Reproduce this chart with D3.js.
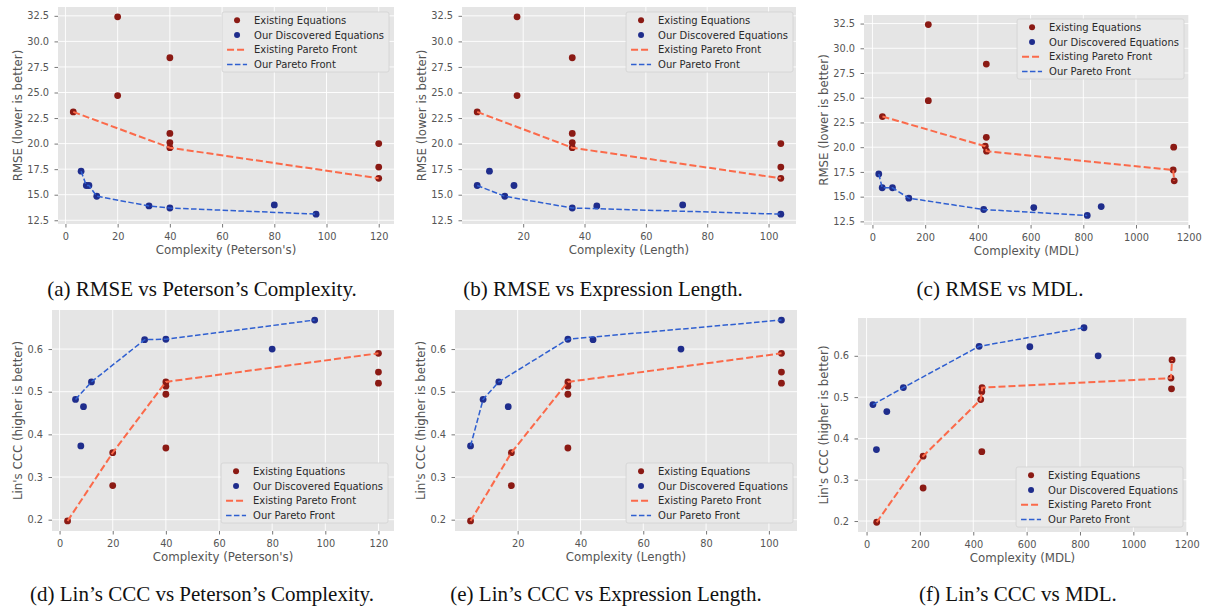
<!DOCTYPE html>
<html>
<head>
<meta charset="utf-8">
<script src="https://cdn.jsdelivr.net/npm/d3@7"></script>
<style>
  body { margin: 0; background: #fff; }
  svg { display: block; }
</style>
</head>
<body>
<svg id="fig" width="1208" height="610"></svg>
<script>
// existing equations, same order in every array
const existPeterson = [3, 20, 20, 40, 40, 40, 40, 120, 120, 120]
const existLength   = [5, 18, 18, 36, 36, 36, 36, 104, 104, 104]
const existMDL      = [38, 212, 212, 432, 432, 428, 433, 1143, 1141, 1145]
const existRMSE     = [23.1, 24.7, 32.4, 28.4, 21.0, 20.1, 19.6, 20.0, 17.7, 16.6]
const existCCC      = [0.197, 0.357, 0.28, 0.368, 0.513, 0.494, 0.523, 0.52, 0.546, 0.59]

// our discovered equations
const ourPeterson = [6, 8, 9, 12, 32, 40, 80, 96]
const ourLength   = [9, 5, 17, 14, 44, 36, 72, 104]
const ourMDL      = [24, 37, 76, 138, 612, 422, 868, 815]
const ourRMSE     = [17.3, 15.9, 15.9, 14.85, 13.9, 13.7, 14.0, 13.1]
const ourCCC      = [0.482, 0.373, 0.465, 0.523, 0.622, 0.623, 0.6, 0.668]

const petersonTicks = [0, 20, 40, 60, 80, 100, 120]
const lengthTicks   = [20, 40, 60, 80, 100]
const mdlTicks      = [0, 200, 400, 600, 800, 1000, 1200]
const rmseTicks     = [12.5, 15, 17.5, 20, 22.5, 25, 27.5, 30, 32.5]
const cccTicks      = [0.2, 0.3, 0.4, 0.5, 0.6]

const legendLabels = ['Existing Equations', 'Our Discovered Equations', 'Existing Pareto Front', 'Our Pareto Front']

const RED = '#8b1a14', BLUE = '#1f2d8c', ORANGE = '#fb6a4a', LBLUE = '#2f5fd0'

// box = [left, top, right, bottom], leg = [right edge, top]
const panels = [
  { ex: existPeterson, ey: existRMSE, ox: ourPeterson, oy: ourRMSE, xt: petersonTicks, yt: rmseTicks, lower: true,
    xl: "Complexity (Peterson's)", yl: 'RMSE (lower is better)', box: [58, 7, 394, 224], leg: [389, 12],
    cap: '(a) RMSE vs Peterson\u2019s Complexity.', cx: 202, cy: 296 },
  { ex: existLength, ey: existRMSE, ox: ourLength, oy: ourRMSE, xt: lengthTicks, yt: rmseTicks, lower: true,
    xl: 'Complexity (Length)', yl: 'RMSE (lower is better)', box: [462, 7, 796, 224], leg: [793, 12],
    cap: '(b) RMSE vs Expression Length.', cx: 603, cy: 296 },
  { ex: existMDL, ey: existRMSE, ox: ourMDL, oy: ourRMSE, xt: mdlTicks, yt: rmseTicks, lower: true,
    xl: 'Complexity (MDL)', yl: 'RMSE (lower is better)', box: [864, 15, 1189, 225], leg: [1184, 19],
    cap: '(c) RMSE vs MDL.', cx: 1000, cy: 296 },
  { ex: existPeterson, ey: existCCC, ox: ourPeterson, oy: ourCCC, xt: petersonTicks, yt: cccTicks, lower: false,
    xl: "Complexity (Peterson's)", yl: "Lin's CCC (higher is better)", box: [52, 310, 394, 531], leg: [388, 463],
    cap: '(d) Lin\u2019s CCC vs Peterson\u2019s Complexity.', cx: 202, cy: 601 },
  { ex: existLength, ey: existCCC, ox: ourLength, oy: ourCCC, xt: lengthTicks, yt: cccTicks, lower: false,
    xl: 'Complexity (Length)', yl: "Lin's CCC (higher is better)", box: [455, 310, 797, 531], leg: [793, 463],
    cap: '(e) Lin\u2019s CCC vs Expression Length.', cx: 606, cy: 601 },
  { ex: existMDL, ey: existCCC, ox: ourMDL, oy: ourCCC, xt: mdlTicks, yt: cccTicks, lower: false,
    xl: 'Complexity (MDL)', yl: "Lin's CCC (higher is better)", box: [858, 318, 1187, 532], leg: [1183, 467],
    cap: '(f) Lin\u2019s CCC vs MDL.', cx: 1018, cy: 601 }
]

// pareto front: walk by complexity, keep points that are at least as good as the best so far
function front (xs, ys, lower) {
  const idx = d3.range(xs.length).sort((a, b) => xs[a] - xs[b] || (lower ? ys[a] - ys[b] : ys[b] - ys[a]))
  let best = null
  const out = []
  idx.forEach(i => {
    if (best === null || (lower ? ys[i] <= best : ys[i] >= best)) {
      out.push([xs[i], ys[i]])
      best = ys[i]
    }
  })
  return out
}

function pad (ext) {
  const r = ext[1] - ext[0]
  return [ext[0] - r * 0.05, ext[1] + r * 0.05]
}

const svg = d3.select('#fig')
const FONT = 'DejaVu Sans, sans-serif'

panels.forEach(p => {
  const [x0, y0, x1, y1] = p.box
  const x = d3.scaleLinear().domain(pad(d3.extent(p.ex.concat(p.ox)))).range([x0, x1])
  const y = d3.scaleLinear().domain(pad(d3.extent(p.ey.concat(p.oy)))).range([y1, y0])
  const g = svg.append('g')

  g.append('rect')
    .attr('x', x0).attr('y', y0)
    .attr('width', x1 - x0).attr('height', y1 - y0)
    .attr('fill', '#e5e5e5')

  g.selectAll('line.gx').data(p.xt).join('line')
    .attr('class', 'gx')
    .attr('x1', d => x(d)).attr('x2', d => x(d))
    .attr('y1', y0).attr('y2', y1)
    .attr('stroke', '#fff').attr('stroke-width', 0.9)
  g.selectAll('line.gy').data(p.yt).join('line')
    .attr('class', 'gy')
    .attr('x1', x0).attr('x2', x1)
    .attr('y1', d => y(d)).attr('y2', d => y(d))
    .attr('stroke', '#fff').attr('stroke-width', 0.9)

  const ax = g.append('g')
    .attr('transform', `translate(0,${y1})`)
    .call(d3.axisBottom(x).tickValues(p.xt).tickFormat(d3.format('d')).tickSizeInner(3.5).tickSizeOuter(0).tickPadding(5.5))
  const ay = g.append('g')
    .attr('transform', `translate(${x0},0)`)
    .call(d3.axisLeft(y).tickValues(p.yt).tickFormat(d3.format('.1f')).tickSizeInner(3.5).tickSizeOuter(0).tickPadding(5.5))
  ;[ax, ay].forEach(a => {
    a.select('.domain').remove()
    a.attr('font-family', FONT).attr('font-size', 9.8)
    a.selectAll('line').attr('stroke', '#555').attr('stroke-width', 0.8)
    a.selectAll('text').attr('fill', '#555')
  })

  g.append('text')
    .attr('x', (x0 + x1) / 2).attr('y', y1 + 29.5)
    .attr('text-anchor', 'middle')
    .attr('font-family', FONT).attr('font-size', 11.8).attr('fill', '#555')
    .text(p.xl)
  g.append('text')
    .attr('transform', `translate(${x0 - (p.lower ? 36 : 30)},${(y0 + y1) / 2}) rotate(-90)`)
    .attr('text-anchor', 'middle')
    .attr('font-family', FONT).attr('font-size', 11.8).attr('fill', '#555')
    .text(p.yl)

  g.selectAll('circle.e').data(d3.zip(p.ex, p.ey)).join('circle')
    .attr('class', 'e')
    .attr('cx', d => x(d[0])).attr('cy', d => y(d[1]))
    .attr('r', 3.4).attr('fill', RED)
  g.selectAll('circle.o').data(d3.zip(p.ox, p.oy)).join('circle')
    .attr('class', 'o')
    .attr('cx', d => x(d[0])).attr('cy', d => y(d[1]))
    .attr('r', 3.4).attr('fill', BLUE)

  const line = d3.line().x(d => x(d[0])).y(d => y(d[1]))
  g.append('path')
    .attr('d', line(front(p.ex, p.ey, p.lower)))
    .attr('fill', 'none').attr('stroke', ORANGE)
    .attr('stroke-width', 2).attr('stroke-dasharray', '7,3')
  g.append('path')
    .attr('d', line(front(p.ox, p.oy, p.lower)))
    .attr('fill', 'none').attr('stroke', LBLUE)
    .attr('stroke-width', 1.5).attr('stroke-dasharray', '5.5,2.4')

  // legend
  const lg = g.append('g')
  const frame = lg.append('rect')
  const rows = lg.selectAll('g').data(legendLabels).join('g')
    .attr('transform', (d, i) => `translate(0,${8.3 + i * 14.7})`)
  const texts = rows.append('text')
    .attr('x', 32).attr('dy', '0.35em')
    .attr('font-family', FONT).attr('font-size', 10).attr('fill', '#2a2a2a')
    .text(d => d)
  rows.filter((d, i) => i < 2).append('circle')
    .attr('cx', 15).attr('r', 3)
    .attr('fill', (d, i) => i === 0 ? RED : BLUE)
  rows.filter((d, i) => i >= 2).append('line')
    .attr('x1', 5).attr('x2', 25)
    .attr('stroke', (d, i) => i === 0 ? ORANGE : LBLUE)
    .attr('stroke-width', (d, i) => i === 0 ? 2 : 1.5)
    .attr('stroke-dasharray', (d, i) => i === 0 ? '7,3' : '5.5,2.4')
  const tw = d3.max(texts.nodes(), n => n.getComputedTextLength())
  const w = 32 + tw + 5
  frame.attr('width', w).attr('height', 60).attr('rx', 2)
    .attr('fill', '#e9e9e9').attr('stroke', '#d2d2d2').attr('stroke-width', 0.8)
  lg.attr('transform', `translate(${p.leg[0] - w},${p.leg[1]})`)

  svg.append('text')
    .attr('x', p.cx).attr('y', p.cy)
    .attr('text-anchor', 'middle')
    .attr('font-family', 'Liberation Serif, Times New Roman, serif')
    .attr('font-size', 21).attr('fill', '#111')
    .text(p.cap)
})
</script>
</body>
</html>
